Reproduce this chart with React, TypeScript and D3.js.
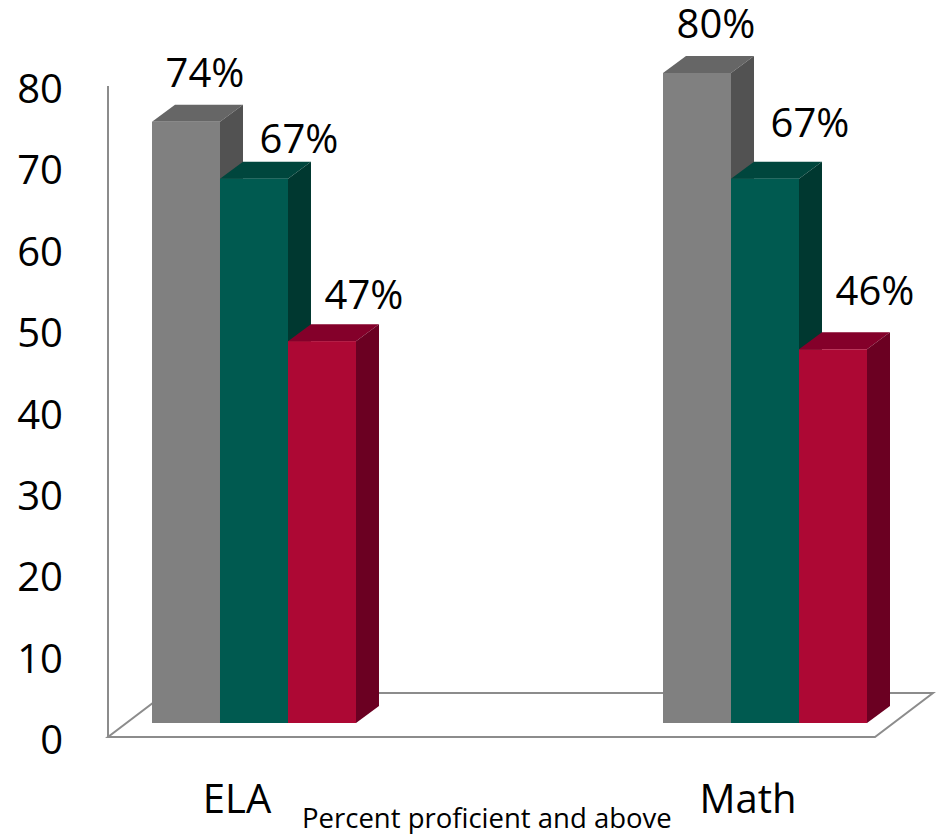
import React from "react";
import * as d3 from "d3";

const categories = ["ELA", "Math"];
const seriesNames = ["Group A", "Group B", "Group C"];
const ELA_VALUES = [74, 67, 47];
const MATH_VALUES = [80, 67, 46];
const VALUES: Record<string, number[]> = { ELA: ELA_VALUES, Math: MATH_VALUES };
const yTicks = [0, 10, 20, 30, 40, 50, 60, 70, 80];
const axisTitle = "Percent proficient and above";

// style / layout constants
const FRONT = ["#808080", "#005a50", "#ad0834"];
const TOP = ["#666666", "#00463d", "#84002a"];
const SIDE = ["#525252", "#003830", "#6b0022"];
const DEPTH_X = 23;
const DEPTH_Y = -17;
const FLOOR_DX = 58;
const FLOOR_DY = -44;
const LABEL_DX = [19, 45, 42];
const LABEL_LIFT: Record<string, number[]> = { ELA: [18, 9, 15], Math: [18, 25, 27] };
const FONT = "'Open Sans', 'DejaVu Sans', sans-serif";

export default function App() {
  const W = 940;
  const H = 834;

  const x = d3.scaleBand<string>().domain(categories).range([152, 867]).paddingInner(0.6008).paddingOuter(0);
  const xs = d3.scaleBand<string>().domain(seriesNames).range([0, x.bandwidth()]).padding(0);
  const yBar = d3.scaleLinear().domain([0, 80]).range([723, 73]);
  const yTick = d3.scaleLinear().domain([0, 80]).range([754, 103]);

  const floorFrontY = 737;
  const floorLeft = 108;
  const floorRight = 875;

  const bars: React.ReactNode[] = [];
  const labels: React.ReactNode[] = [];
  categories.forEach((c) => {
    VALUES[c].forEach((v, i) => {
      const x0 = (x(c) as number) + (xs(seriesNames[i]) as number);
      const w = xs.bandwidth();
      const x1 = x0 + w;
      const yt = yBar(v);
      const yb = yBar(0);
      const dx = DEPTH_X;
      const dy = DEPTH_Y;
      bars.push(
        <g key={c + i}>
          <polygon
            points={`${x0},${yt} ${x0 + dx},${yt + dy} ${x1 + dx},${yt + dy} ${x1},${yt}`}
            fill={TOP[i]}
          />
          <polygon
            points={`${x1},${yt} ${x1 + dx},${yt + dy} ${x1 + dx},${yb + dy} ${x1},${yb}`}
            fill={SIDE[i]}
          />
          <rect x={x0} y={yt} width={w} height={yb - yt} fill={FRONT[i]} />
        </g>
      );
      labels.push(
        <text
          key={"l" + c + i}
          x={x0 + w / 2 + LABEL_DX[i]}
          y={yt + dy - LABEL_LIFT[c][i]}
          textAnchor="middle"
          fontSize={40}
          fontFamily={FONT}
          fill="#000"
        >
          {v}%
        </text>
      );
    });
  });

  return (
    <svg
      width={W}
      height={H}
      style={{ position: "absolute", left: 0, top: 0, background: "#fff" }}
    >
      {/* floor */}
      <polygon
        points={`${floorLeft},${floorFrontY} ${floorRight},${floorFrontY} ${floorRight + FLOOR_DX},${floorFrontY + FLOOR_DY} ${floorLeft + FLOOR_DX},${floorFrontY + FLOOR_DY}`}
        fill="none"
        stroke="#8c8c8c"
        strokeWidth={2}
      />
      {/* wall edge */}
      <line x1={floorLeft} x2={floorLeft} y1={floorFrontY} y2={86} stroke="#8c8c8c" strokeWidth={2} />
      {bars}
      {labels}
      {yTicks.map((t) => (
        <text key={t} x={63} y={yTick(t)} textAnchor="end" fontSize={40} fontFamily={FONT} fill="#000">
          {t}
        </text>
      ))}
      {categories.map((c) => (
        <text
          key={c}
          x={(x(c) as number) + x.bandwidth() / 2 - 17}
          y={813}
          textAnchor="middle"
          fontSize={40}
          fontFamily={FONT}
          fill="#000"
        >
          {c}
        </text>
      ))}
      <text x={302} y={828} fontSize={27.5} fontFamily={FONT} fill="#000">
        {axisTitle}
      </text>
    </svg>
  );
}
